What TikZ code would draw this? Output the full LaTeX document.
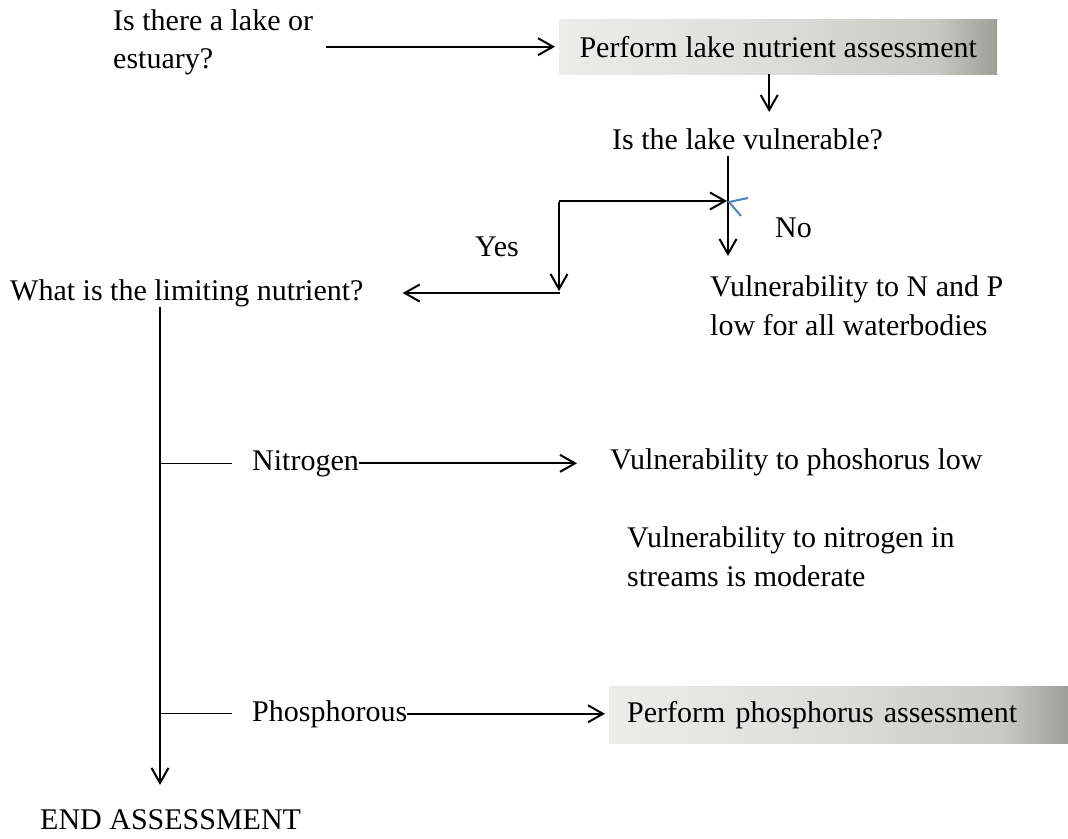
\documentclass[tikz,border=0pt]{standalone}
\usepackage{fontspec}
\setmainfont{Liberation Serif}
\usetikzlibrary{arrows.meta}

\definecolor{boxA}{RGB}{236,236,235}
\definecolor{boxB}{RGB}{220,220,218}
\definecolor{boxC}{RGB}{200,200,196}
\definecolor{boxD}{RGB}{158,158,152}
\definecolor{tickblue}{RGB}{79,129,189}

% light-to-dark fill of the action boxes (path spans 25bp..75bp)
\pgfdeclarehorizontalshading{boxgrad}{100bp}{color(0bp)=(boxA); color(25bp)=(boxA); color(50bp)=(boxB); color(68bp)=(boxC); color(75bp)=(boxD); color(100bp)=(boxD)}

\begin{document}
\begin{tikzpicture}[x=1pt,y=-1pt,
  every node/.style={inner sep=0pt, font=\fontsize{30}{39}\selectfont},
  label text/.style={anchor=base west},
  multi/.style={anchor=base west, align=left},
  link/.style={line width=2pt, -{Straight Barb[length=15pt,width=17pt]}},
  plain line/.style={line width=1.4pt},
  shadebox/.style={shading=boxgrad, anchor=north west},
  tick/.style={draw=tickblue, line width=2pt}]

\useasboundingbox (0,0) rectangle (1068,838);

% questions, outcomes and actions (two-line texts are placed by their last line)
\node[multi, font=\fontsize{30}{38}\selectfont] (q1) at (113,68) {Is there a lake or\\estuary?};
\node[shadebox, minimum width=438pt, minimum height=55pt] (box1) at (559,19) {Perform lake nutrient assessment};
\node[label text] (q2) at (612,149) {Is the lake vulnerable?};
\node[label text] (no) at (775,237) {No};
\node[label text] (yes) at (475,256) {Yes};
\node[label text] (limit) at (10,300) {What is the limiting nutrient?};
\node[multi] (lowNP) at (710,335) {Vulnerability to N and P\\low for all waterbodies};
\node[label text] (nitro) at (252,470) {Nitrogen};
\node[label text] (lowP) at (610,469) {Vulnerability to phoshorus low};
\node[multi] (modN) at (627,586) {Vulnerability to nitrogen in\\streams is moderate};
\node[label text] (phos) at (252,721) {Phosphorous};
\node[shadebox, minimum width=459pt, minimum height=57pt, text width=423pt, inner xsep=18pt, align=left] (box2) at (609,686) {Perform phosphorus assessment};
\node[label text] (endn) at (40,829) {END ASSESSMENT};

% routing points
\coordinate (trunkx) at (160,0);
\coordinate (split) at (728,201);
\coordinate (elbow) at (559,201);
\coordinate (elbowlow) at (559,293);

% connectors
\draw[link, shorten <=13pt, shorten >=4pt] (q1.east |- box1.west) -- (box1.west);
\draw[link, shorten >=16pt] ([xshift=-9pt]box1.south) -- ([xshift=-9pt]box1.south |- q2.north);
\draw[link, shorten <=6pt, shorten >=19pt] (q2.south -| split) -- (lowNP.north -| split);
\draw[link, shorten >=1pt] (elbow) -- (split);
\draw[link, shorten >=2pt] ([yshift=-1pt]elbow) -- (elbowlow);
\draw[link, shorten >=39pt] ([xshift=1pt]elbowlow) -- (elbowlow -| limit.east);
\draw[tick] ([shift={(20,-3)}]split) -- ([shift={(1,1)}]split) -- ([shift={(13,15)}]split);

\draw[link, shorten >=24pt] (limit.south -| trunkx) -- (endn.north -| trunkx);
\draw[plain line] (nitro.west -| trunkx) -- ([xshift=-20pt]nitro.west);
\draw[link, shorten >=33pt] (nitro.east) -- (nitro.east -| lowP.west);
\draw[plain line] (phos.west -| trunkx) -- ([xshift=-20pt]phos.west);
\draw[link, shorten >=4pt] (phos.east) -- (phos.east -| box2.west);
\end{tikzpicture}
\end{document}
